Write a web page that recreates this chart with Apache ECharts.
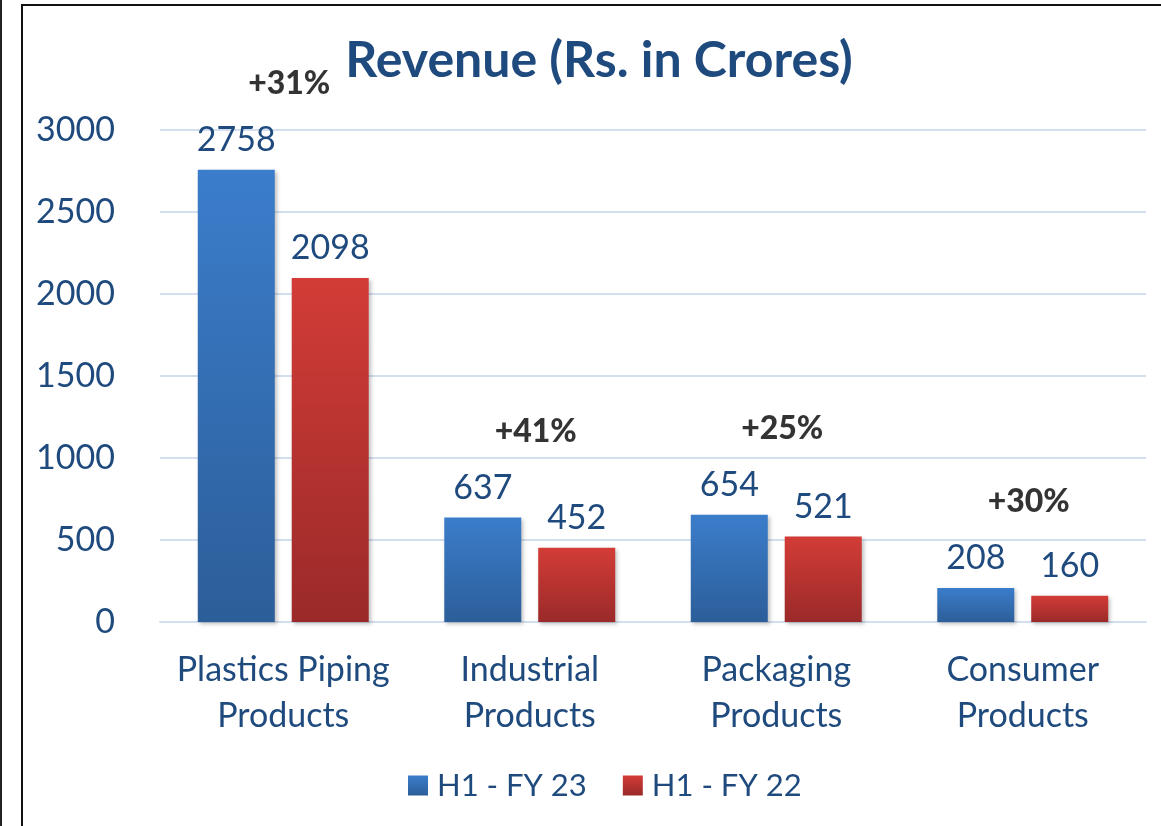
<!DOCTYPE html>
<html>
<head>
<meta charset="utf-8">
<script src="https://cdn.jsdelivr.net/npm/echarts@6/dist/echarts.min.js"></script>
<style>
	html, body { margin: 0; padding: 0; background: #fff; }
	#edge { position: absolute; left: 0; top: 0; width: 2px; height: 826px; background: #222; }
	#box { position: absolute; left: 21px; top: 4px; width: 1200px; height: 900px; border-left: 2px solid #111; border-top: 2px solid #111; }
	#chart { position: absolute; left: 0; top: 0; width: 1161px; height: 826px; }
</style>
</head>
<body>
<div id="edge"></div>
<div id="box"></div>
<div id="chart"></div>
<script>
// data
const categories = ['Plastics Piping\nProducts', 'Industrial\nProducts', 'Packaging\nProducts', 'Consumer\nProducts']
const fy23 = [2758, 637, 654, 208]
const fy22 = [2098, 452, 521, 160]
const growth = ['+31%', '+41%', '+25%', '+30%']
const yTicks = [0, 500, 1000, 1500, 2000, 2500, 3000]

const textBlue = '#1F4A7E'
const font = 'Lato'

const grad = (top, bottom) => new echarts.graphic.LinearGradient(0, 0, 0, 1, [
	{ offset: 0, color: top },
	{ offset: 1, color: bottom }
])

const chart = echarts.init(document.getElementById('chart'))

const valueLabel = {
	show: true,
	position: 'top',
	distance: 13,
	color: textBlue,
	fontFamily: font,
	fontSize: 34
}

chart.setOption({
	animation: false,
	title: {
		text: 'Revenue (Rs. in Crores)',
		left: 594,
		textAlign: 'center',
		top: 31,
		textStyle: { color: textBlue, fontFamily: font, fontWeight: 'bold', fontSize: 50 }
	},
	legend: {
		bottom: 20,
		left: 403,
		itemWidth: 20,
		itemHeight: 20,
		itemGap: 36,
		icon: 'rect',
		textStyle: { color: textBlue, fontFamily: font, fontSize: 31, padding: [0, 0, 0, 4] },
		data: ['H1 - FY 23', 'H1 - FY 22']
	},
	grid: { left: 160, right: 15, top: 130, bottom: 204 },
	xAxis: {
		type: 'category',
		data: categories,
		axisLine: { lineStyle: { color: '#D3DFEF', width: 2 } },
		axisTick: { show: false },
		axisLabel: {
			interval: 0,
			color: textBlue,
			fontFamily: font,
			fontSize: 34,
			lineHeight: 46,
			margin: 25
		}
	},
	yAxis: {
		type: 'value',
		min: yTicks[0],
		max: yTicks[yTicks.length - 1],
		interval: 500,
		axisLine: { show: false },
		axisTick: { show: false },
		splitLine: { lineStyle: { color: '#D3DFEF', width: 2 } },
		axisLabel: { color: textBlue, fontFamily: font, fontSize: 34, margin: 45, formatter: (v) => String(v) }
	},
	series: [
		{
			name: 'H1 - FY 23',
			type: 'bar',
			data: fy23,
			barWidth: 77,
			barGap: '22%',
			itemStyle: {
				color: grad('#3B7DCB', '#2C5E99'),
				shadowColor: 'rgba(0,0,0,0.25)',
				shadowBlur: 4,
				shadowOffsetX: 2,
				shadowOffsetY: 2
			},
			label: valueLabel
		},
		{
			name: 'H1 - FY 22',
			type: 'bar',
			data: fy22,
			barWidth: 77,
			itemStyle: {
				color: grad('#D33C37', '#9A2A29'),
				shadowColor: 'rgba(0,0,0,0.25)',
				shadowBlur: 4,
				shadowOffsetX: 2,
				shadowOffsetY: 2
			},
			label: valueLabel
		},
		{
			// growth labels hang above the taller bar of each pair
			name: 'growth',
			type: 'scatter',
			data: fy23,
			symbolSize: 0,
			silent: true,
			label: {
				show: true,
				position: 'top',
				distance: 70,
				offset: [6, 0],
				color: '#000',
				fontFamily: font,
				fontWeight: 900,
				fontSize: 32,
				formatter: (p) => growth[p.dataIndex]
			}
		}
	]
})
</script>
</body>
</html>
